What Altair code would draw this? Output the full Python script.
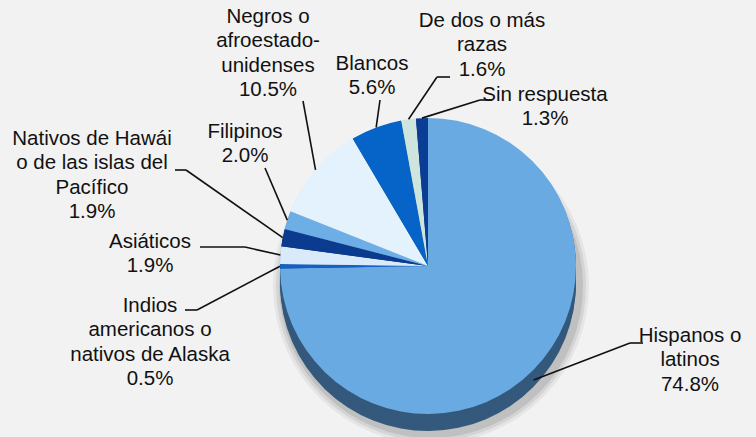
import math
import altair as alt
import pandas as pd

# ---- data ----
categories = [
    "Hispanos o latinos",
    "Indios americanos o nativos de Alaska",
    "Asiáticos",
    "Nativos de Hawái o de las islas del Pacífico",
    "Filipinos",
    "Negros o afroestadounidenses",
    "Blancos",
    "De dos o más razas",
    "Sin respuesta",
]
values = [74.8, 0.5, 1.9, 1.9, 2.0, 10.5, 5.6, 1.6, 1.3]
label_lines = [
    ["Hispanos o", "latinos"],
    ["Indios", "americanos o", "nativos de Alaska"],
    ["Asiáticos"],
    ["Nativos de Hawái", "o de las islas del", "Pacífico"],
    ["Filipinos"],
    ["Negros o", "afroestado-", "unidenses"],
    ["Blancos"],
    ["De dos o más", "razas"],
    ["Sin respuesta"],
]

# ---- style / layout ----
top_colors = ["#69aae2", "#1560c4", "#d9eafa", "#0b3b8f", "#6eaee6",
              "#e4f2fd", "#0664c9", "#cde5dc", "#0a3d96"]
side_colors = ["#34597c", "#0d3f82", "#8ea9c4", "#072660", "#3f6e99",
               "#95a9bb", "#043f80", "#86a099", "#072865"]
CX, CY, R, DEPTH = 428, 266, 148, 17
FONT = "Liberation Sans"
FS = 20.5
LH = 24.3
# label centre x and first-line baseline y
label_x = [690, 150, 150, 92, 245, 268, 372, 482, 545]
label_y = [342, 312, 248, 145, 138, 23, 70, 27, 101]
# leader: anchor near text, elbow point, then to slice edge
anchor_pts = [(643, 343), (185, 310), (200, 247), (175, 170), (265, 168),
              (303, 101), (380, 100), (450, 77), (492, 100)]
elbow_pts = [(630, 343), (197, 310), (245, 247), (186, 170), (265, 168),
             (303, 101), (380, 100), (437, 77), (480, 100)]

total = sum(values)
order = list(range(len(values)))
df = pd.DataFrame({
    "cat": categories,
    "value": values,
    "order": order,
})


def pie(y, colors, radius=R, x=CX, **kw):
    return alt.Chart(df).mark_arc(outerRadius=radius, **kw).encode(
        theta=alt.Theta("value:Q", stack=True),
        order=alt.Order("order:Q"),
        color=alt.Color("cat:N", scale=alt.Scale(domain=categories, range=colors), legend=None),
        x=alt.value(x),
        y=alt.value(y),
    )


layers = []
# soft shadow
for k, op in [(10, 0.05), (7, 0.07), (4, 0.09)]:
    layers.append(
        alt.Chart(df).mark_arc(outerRadius=R + k, color="#000000", opacity=op).encode(
            theta=alt.Theta("value:Q", stack=True),
            order=alt.Order("order:Q"),
            x=alt.value(CX + 3),
            y=alt.value(CY + DEPTH + 3),
        )
    )
# side (depth)
side = alt.layer(*[pie(CY + k, side_colors) for k in range(DEPTH, 0, -2)])
layers.append(side)
# top face
layers.append(pie(CY, top_colors))

# leader lines
cum = 0.0
seg_rows = []
for i, v in enumerate(values):
    mid = (cum + v / 2) / total
    cum += v
    ang = 2 * math.pi * mid
    ex = CX + R * math.sin(ang)
    ey = CY - R * math.cos(ang)
    if i == 0:
        ey += DEPTH * 0.6
    ax_, ay_ = anchor_pts[i]
    bx, by = elbow_pts[i]
    seg_rows.append({"x": ax_, "y": ay_, "x2": bx, "y2": by})
    seg_rows.append({"x": bx, "y": by, "x2": ex, "y2": ey})
seg_df = pd.DataFrame(seg_rows)
layers.append(
    alt.Chart(seg_df).mark_rule(color="#111111", strokeWidth=1.6).encode(
        x=alt.X("x:Q", scale=None, axis=None),
        y=alt.Y("y:Q", scale=None, axis=None),
        x2="x2:Q",
        y2="y2:Q",
    )
)

# labels
lab_df = pd.DataFrame({
    "txt": ["\n".join(lines + [f"{v:.1f}%"]) for lines, v in zip(label_lines, values)],
    "lx": label_x,
    "ly": label_y,
})
layers.append(
    alt.Chart(lab_df).mark_text(
        font=FONT, fontSize=FS, lineHeight=LH, align="center",
        baseline="alphabetic", color="#111111", lineBreak="\n",
    ).encode(
        x=alt.X("lx:Q", scale=None, axis=None),
        y=alt.Y("ly:Q", scale=None, axis=None),
        text="txt:N",
    )
)

chart = alt.layer(*layers).resolve_scale(color="independent").properties(
    width=756, height=437, padding=0, autosize=alt.AutoSizeParams(type="none"),
    background="#f2f2f2",
).configure_view(stroke=None)

chart.save("out.html", embed_options={"renderer": "svg", "actions": False})
